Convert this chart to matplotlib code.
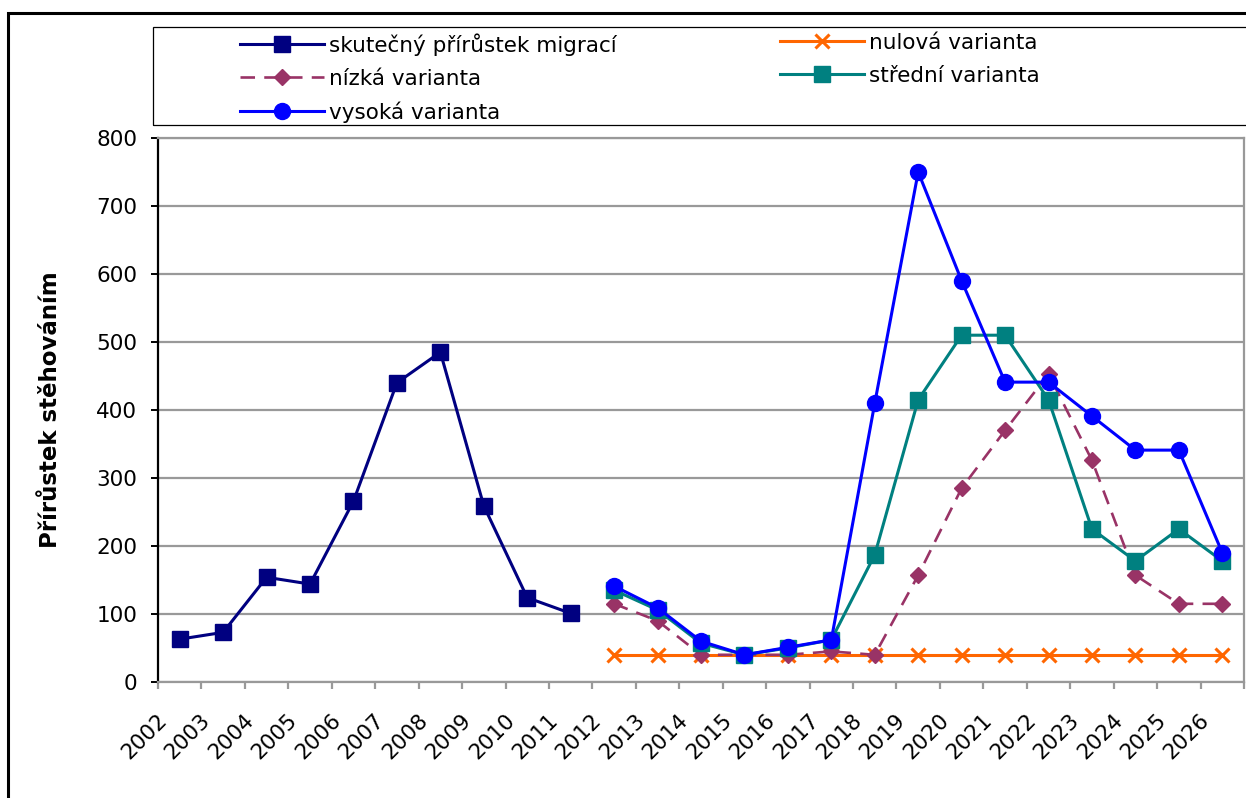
import numpy as np
import matplotlib
matplotlib.use("Agg")
import matplotlib.pyplot as plt
from matplotlib.patches import Rectangle
from matplotlib.transforms import ScaledTranslation

plt.rcParams['font.family'] = ['DejaVu Sans']

years = ["2002", "2003", "2004", "2005", "2006", "2007", "2008", "2009", "2010",
         "2011", "2012", "2013", "2014", "2015", "2016", "2017", "2018", "2019",
         "2020", "2021", "2022", "2023", "2024", "2025", "2026"]

# skutečný přírůstek migrací (2002-2011)
actual = [63, 73, 154, 144, 266, 440, 485, 259, 124, 101]
# variants (2012-2026)
zero = [40, 40, 40, 40, 40, 40, 40, 40, 40, 40, 40, 40, 40, 40, 40]
low = [115, 90, 40, 40, 40, 45, 40, 157, 285, 370, 453, 326, 157, 115, 115]
mid = [135, 106, 57, 40, 50, 62, 187, 415, 510, 510, 415, 225, 178, 225, 178]
high = [141, 109, 60, 40, 51, 62, 410, 750, 590, 441, 441, 391, 341, 341, 190]

labels = ["skutečný přírůstek migrací", "nulová varianta", "nízká varianta",
          "střední varianta", "vysoká varianta"]

W, H = 1246, 798
FS = 15.5
fig = plt.figure(figsize=(W / 100, H / 100), dpi=100)
ax = fig.add_axes([158 / W, 1 - 682 / H, (1244 - 158) / W, (682 - 138) / H])

x = np.arange(len(years))
x_act = x[:len(actual)]
x_var = x[len(years) - len(low):]

l_act, = ax.plot(x_act, actual, color='#000080', lw=2.2, marker='s', ms=11,
                 zorder=5)
l_zero, = ax.plot(x_var, zero, color='#FF6600', lw=2.2, marker='x', ms=10,
                  mew=2.2, zorder=2)
l_low, = ax.plot(x_var, low, color='#993366', lw=1.9, ls=(0, (5.5, 3.5)),
                 marker='D', ms=8, zorder=3)
l_mid, = ax.plot(x_var, mid, color='#008080', lw=2.2, marker='s', ms=11.5,
                 zorder=4)
l_high, = ax.plot(x_var, high, color='#0000FF', lw=2.2, marker='o', ms=11.5,
                  zorder=6)

ax.set_xlim(-0.5, len(years) - 0.5)
ax.set_ylim(0, 800)
ax.set_yticks(range(0, 801, 100))
ax.yaxis.grid(True, color='#999999', lw=1.6)
ax.set_axisbelow(True)

ax.spines['left'].set_color('black')
ax.spines['left'].set_linewidth(1.6)
for s in ['bottom', 'right', 'top']:
    ax.spines[s].set_color('#999999')
    ax.spines[s].set_linewidth(1.6)

ax.set_xticks(x)
ax.set_xticklabels(years)
ax.set_xticks(np.arange(-0.5, len(years), 1.0), minor=True)
ax.tick_params(axis='x', which='major', length=0, pad=0, labelsize=FS)
ax.tick_params(axis='x', which='minor', length=5, width=1.6, color='#999999',
               direction='out')
ax.tick_params(axis='y', length=5, width=1.4, color='black', pad=10,
               labelsize=FS)

off = ScaledTranslation(-0.23, -0.28, fig.dpi_scale_trans)
for lbl in ax.get_xticklabels():
    lbl.set_rotation(45)
    lbl.set_ha('right')
    lbl.set_va('top')
    lbl.set_rotation_mode('anchor')
    lbl.set_transform(lbl.get_transform() + off)

ax.set_ylabel("Přírůstek stěhováním", fontsize=16.5, fontweight='bold')
ax.yaxis.set_label_coords(-0.088, 0.5)

# Legend (two columns, row-major)
leg_kw = dict(frameon=False, borderpad=0, borderaxespad=0, handlelength=3.9,
              handletextpad=0.25, labelspacing=0.6, fontsize=FS, numpoints=1,
              loc='upper left')
leg1 = fig.legend([l_act, l_low, l_high], [labels[0], labels[2], labels[4]],
                  bbox_to_anchor=(240 / W, 1 - 33 / H), **leg_kw)
leg2 = fig.legend([l_zero, l_mid], [labels[1], labels[3]],
                  bbox_to_anchor=(780 / W, 1 - 33 / H), **leg_kw)

fig.add_artist(Rectangle((153 / W, 1 - 125 / H), 1.0, 98 / H,
                         transform=fig.transFigure, fill=False,
                         ec='black', lw=0.9, clip_on=False))
fig.add_artist(Rectangle((8 / W, -0.05), 1.2, 1 - 13 / H + 0.05,
                         transform=fig.transFigure, fill=False,
                         ec='black', lw=2.2, clip_on=False))

fig.savefig("out.png", dpi=100)
